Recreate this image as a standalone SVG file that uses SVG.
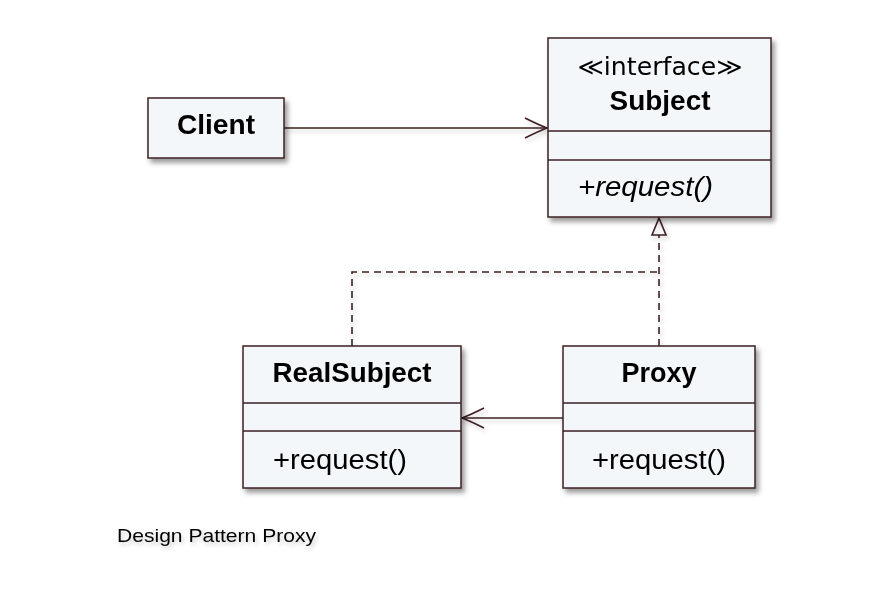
<svg xmlns="http://www.w3.org/2000/svg" width="873" height="595" viewBox="0 0 873 595">
  <style>
    .box { fill: #f3f7f9; stroke: #3d1f24; stroke-width: 1.5; }
    .div { stroke: #3d1f24; stroke-width: 1.4; fill: none; }
    .line { stroke: #3d1f24; stroke-width: 1.6; fill: none; }
    .dash { stroke: #3d1f24; stroke-width: 1.6; fill: none; stroke-dasharray: 7 5; }
    .title { font-family: "Liberation Sans", "DejaVu Sans", sans-serif; font-weight: bold; font-size: 27px; fill: #000; text-anchor: middle; }
    .op { font-family: "Liberation Sans", "DejaVu Sans", sans-serif; font-size: 27px; fill: #000; }
    .st { font-family: "DejaVu Sans", "Liberation Sans", sans-serif; font-size: 24px; fill: #000; text-anchor: middle; }
    .cap { font-family: "Liberation Sans", "DejaVu Sans", sans-serif; font-size: 19px; fill: #000; }
  </style>
  <defs>
    <filter id="shadow" x="-10%" y="-10%" width="130%" height="130%">
      <feDropShadow dx="3" dy="4" stdDeviation="2.5" flood-color="#000" flood-opacity="0.4"/>
    </filter>
    <filter id="lshadow" x="-10%" y="-50%" width="130%" height="250%">
      <feDropShadow dx="2" dy="3" stdDeviation="2" flood-color="#000" flood-opacity="0.2"/>
    </filter>
  </defs>

  <rect width="873" height="595" fill="#ffffff"/>

  <!-- connectors -->
  <g id="connectors" filter="url(#lshadow)">
    <!-- Client uses Subject -->
    <path class="line" d="M284,128 H547"/>
    <path class="line" d="M525,118 Q539,125 547,128 Q539,131 525,138"/>
    <!-- Proxy delegates to RealSubject -->
    <path class="line" d="M563,418 H462"/>
    <path class="line" d="M484,408 Q470,415 462,418 Q470,421 484,428"/>
    <!-- realizations of Subject -->
    <path class="dash" d="M352,346 V272 H659"/>
    <path class="dash" d="M659,346 V235"/>
    <path class="line" d="M659,218 L652,235 H666 Z" fill="#ffffff"/>
  </g>

  <g id="client" filter="url(#shadow)">
    <rect class="box" x="148" y="98" width="136" height="60"/>
    <text class="title" x="216" y="134" textLength="78" lengthAdjust="spacingAndGlyphs">Client</text>
  </g>

  <g id="subject" filter="url(#shadow)">
    <rect class="box" x="548" y="38" width="223" height="179"/>
    <line class="div" x1="548" y1="131" x2="771" y2="131"/>
    <line class="div" x1="548" y1="160" x2="771" y2="160"/>
    <text class="st" x="660" y="75" textLength="165" lengthAdjust="spacingAndGlyphs">≪interface≫</text>
    <text class="title" x="660" y="110" textLength="101" lengthAdjust="spacingAndGlyphs">Subject</text>
    <text class="op" x="578" y="196" font-style="italic" textLength="135" lengthAdjust="spacingAndGlyphs">+request()</text>
  </g>

  <g id="realsubject" filter="url(#shadow)">
    <rect class="box" x="243" y="346" width="218" height="142"/>
    <line class="div" x1="243" y1="403" x2="461" y2="403"/>
    <line class="div" x1="243" y1="431" x2="461" y2="431"/>
    <text class="title" x="352" y="382" textLength="159" lengthAdjust="spacingAndGlyphs">RealSubject</text>
    <text class="op" x="273" y="469" textLength="134" lengthAdjust="spacingAndGlyphs">+request()</text>
  </g>

  <g id="proxy" filter="url(#shadow)">
    <rect class="box" x="563" y="346" width="192" height="142"/>
    <line class="div" x1="563" y1="403" x2="755" y2="403"/>
    <line class="div" x1="563" y1="431" x2="755" y2="431"/>
    <text class="title" x="659" y="382" textLength="75" lengthAdjust="spacingAndGlyphs">Proxy</text>
    <text class="op" x="592" y="469" textLength="134" lengthAdjust="spacingAndGlyphs">+request()</text>
  </g>

  <g id="caption" filter="url(#lshadow)">
    <text class="cap" x="117" y="542" textLength="199" lengthAdjust="spacingAndGlyphs">Design Pattern Proxy</text>
  </g>
</svg>
